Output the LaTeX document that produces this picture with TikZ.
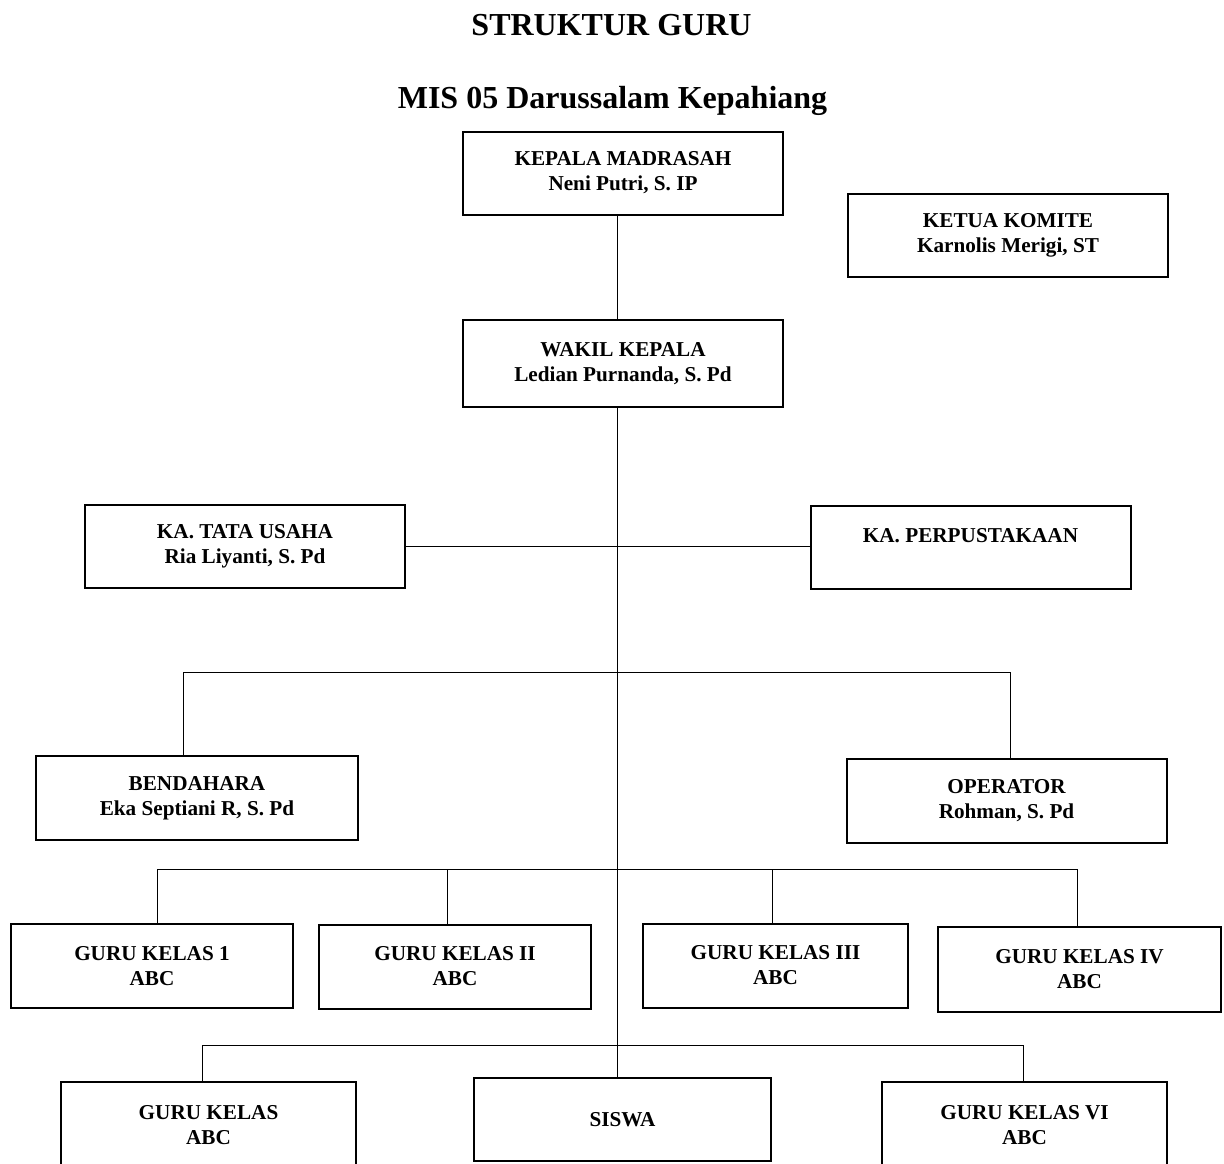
\documentclass[tikz,border=0pt]{standalone}
\usepackage{fontspec}
\setmainfont{Liberation Serif}
\tikzstyle{kotak}=[draw, line width=1pt, align=center, inner sep=0pt, font=\bfseries\fontsize{10.6}{12.5}\selectfont]
\tikzstyle{jabatan}=[kotak, minimum width=160pt, minimum height=41.5pt]
\tikzstyle{guru}=[kotak, minimum width=140pt, minimum height=42pt]
\tikzstyle{judul}=[font=\bfseries\fontsize{16}{19}\selectfont, anchor=base, inner sep=0pt]
\tikzstyle{garis}=[line width=0.5pt]

\begin{document}
\begin{tikzpicture}[x=0.5pt, y=-0.5pt]
        \useasboundingbox (0,0) rectangle (1224,1163);
        \node[judul] (judul) at (611.5,35) {STRUKTUR GURU};
        \node[judul] (sekolah) at (612.5,108) {MIS 05 Darussalam Kepahiang};

        \node[jabatan] (kepala) at (623,173) {KEPALA MADRASAH\\Neni Putri, S. IP};
        \node[jabatan] (komite) at (1008,235.5) {KETUA KOMITE\\Karnolis Merigi, ST};
        \node[jabatan, minimum height=43.5pt] (wakil) at (623,363.5) {WAKIL KEPALA\\Ledian Purnanda, S. Pd};
        \node[jabatan] (tata) at (245,546.5) {KA. TATA USAHA\\Ria Liyanti, S. Pd};
        \node[jabatan] (pustaka) at (970.5,547.5) {KA. PERPUSTAKAAN\\\mbox{}};
        \node[jabatan, minimum width=161pt, minimum height=42pt] (bendahara) at (197,798) {BENDAHARA\\Eka Septiani R, S. Pd};
        \node[jabatan, minimum height=42pt] (operator) at (1006.5,801) {OPERATOR\\Rohman, S. Pd};

        \node[guru, minimum width=141pt] (kelas1) at (152,966) {GURU KELAS 1\\ABC};
        \node[guru, minimum width=136pt] (kelas2) at (455,966.5) {GURU KELAS II\\ABC};
        \node[guru, minimum width=132.5pt] (kelas3) at (775.5,965.5) {GURU KELAS III\\ABC};
        \node[guru, minimum width=141.5pt, minimum height=42.5pt] (kelas4) at (1079.5,969.5) {GURU KELAS IV\\ABC};
        \node[guru, minimum width=147.5pt, minimum height=43pt] (kelas5) at (208.5,1125) {GURU KELAS\\ABC};
        \node[guru, minimum width=148.5pt, minimum height=41.5pt] (siswa) at (622.5,1119.5) {SISWA};
        \node[guru, minimum width=142.5pt, minimum height=43pt] (kelas6) at (1024.5,1125) {GURU KELAS VI\\ABC};

        \coordinate (batang) at (617,0);
        \draw[garis] (kepala.south -| batang) -- (wakil.north -| batang);
        \draw[garis] (wakil.south -| batang) -- (siswa.north -| batang);
        \draw[garis] (tata.east) -- (tata.east -| pustaka.west);

        \coordinate (cabang1) at (183,672);
        \coordinate (cabang2) at (1010,672);
        \draw[garis] (bendahara.north -| cabang1) |- (cabang2) -- (operator.north -| cabang2);

        \coordinate (cabang3) at (157,869);
        \coordinate (cabang4) at (1077,869);
        \coordinate (k2) at (447,869);
        \coordinate (k3) at (772,869);
        \draw[garis] (kelas1.north -| cabang3) |- (cabang4) -- (kelas4.north -| cabang4);
        \draw[garis] (k2) -- (kelas2.north -| k2);
        \draw[garis] (k3) -- (kelas3.north -| k3);

        \coordinate (cabang5) at (202,1045);
        \coordinate (cabang6) at (1023,1045);
        \draw[garis] (kelas5.north -| cabang5) |- (cabang6) -- (kelas6.north -| cabang6);
    \end{tikzpicture}
\end{document}
